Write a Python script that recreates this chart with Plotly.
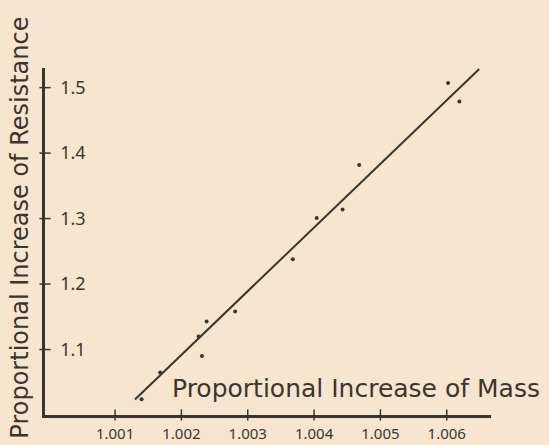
import plotly.graph_objects as go

# Measured points: proportional increase of mass vs. proportional increase of resistance
mass = [1.00140, 1.00168, 1.00226, 1.00231, 1.00238, 1.00281,
        1.00368, 1.00404, 1.00443, 1.00468, 1.00602, 1.00619]
resistance = [1.024, 1.065, 1.120, 1.090, 1.143, 1.158,
              1.238, 1.301, 1.314, 1.382, 1.507, 1.479]

# Straight line drawn through the points
fit_mass = [1.00130, 1.00649]
fit_resistance = [1.0238, 1.5285]

x_ticks = [1.001, 1.002, 1.003, 1.004, 1.005, 1.006]
x_tick_text = ["1.001", "1.002", "1.003", "1.004", "1.005", "1.006"]
y_ticks = [1.1, 1.2, 1.3, 1.4, 1.5]
y_tick_text = ["1.1", "1.2", "1.3", "1.4", "1.5"]

x_range = [0.999944, 1.006667]
y_range = [1.0, 1.530]

ink = "#3b3530"
paper = "#F7E5CF"
tick_font = "Noto Sans, DejaVu Sans, sans-serif"
title_font = "DejaVu Sans, sans-serif"

fig = go.Figure()

fig.add_trace(go.Scatter(
    x=fit_mass, y=fit_resistance, mode="lines",
    line=dict(color=ink, width=2), hoverinfo="skip", showlegend=False,
))

fig.add_trace(go.Scatter(
    x=mass, y=resistance, mode="markers",
    marker=dict(color=ink, size=4), showlegend=False,
))

# Small cross-ticks straddling each axis
fig.add_trace(go.Scatter(
    x=x_ticks, y=[y_range[0]] * len(x_ticks), mode="markers",
    marker=dict(symbol="line-ns", size=8, line=dict(color=ink, width=1.5)),
    cliponaxis=False, hoverinfo="skip", showlegend=False,
))
fig.add_trace(go.Scatter(
    x=[x_range[0]] * len(y_ticks), y=y_ticks, mode="markers",
    marker=dict(symbol="line-ew", size=8, line=dict(color=ink, width=1.5)),
    cliponaxis=False, hoverinfo="skip", showlegend=False,
))

fig.update_xaxes(
    range=x_range, showgrid=False, zeroline=False, automargin=False,
    showline=True, linecolor=ink, linewidth=2.5,
    tickmode="array", tickvals=x_ticks, ticktext=x_tick_text,
    ticks="", ticklabelstandoff=3,
    tickfont=dict(family=tick_font, size=15, color=ink),
)
fig.update_yaxes(
    range=y_range, showgrid=False, zeroline=False, automargin=False,
    showline=True, linecolor=ink, linewidth=2.5,
    tickmode="array", tickvals=y_ticks, ticktext=y_tick_text,
    ticks="", ticklabelposition="inside", ticklabelstandoff=16,
    tickfont=dict(family=tick_font, size=18, color=ink),
)

fig.add_annotation(
    text="Proportional Increase of Mass",
    xref="paper", yref="paper", x=0.28, y=0.075,
    xanchor="left", yanchor="middle", showarrow=False,
    font=dict(family=title_font, size=25, color=ink),
)
fig.add_annotation(
    text="Proportional Increase of Resistance",
    xref="paper", yref="paper", x=-0.056, y=0.54,
    xanchor="center", yanchor="middle", textangle=-90, showarrow=False,
    font=dict(family=title_font, size=24, color=ink),
)

fig.update_layout(
    width=549, height=445,
    margin=dict(l=45, r=58, t=68, b=30),
    paper_bgcolor=paper, plot_bgcolor=paper,
)

fig.write_html("out.html")
